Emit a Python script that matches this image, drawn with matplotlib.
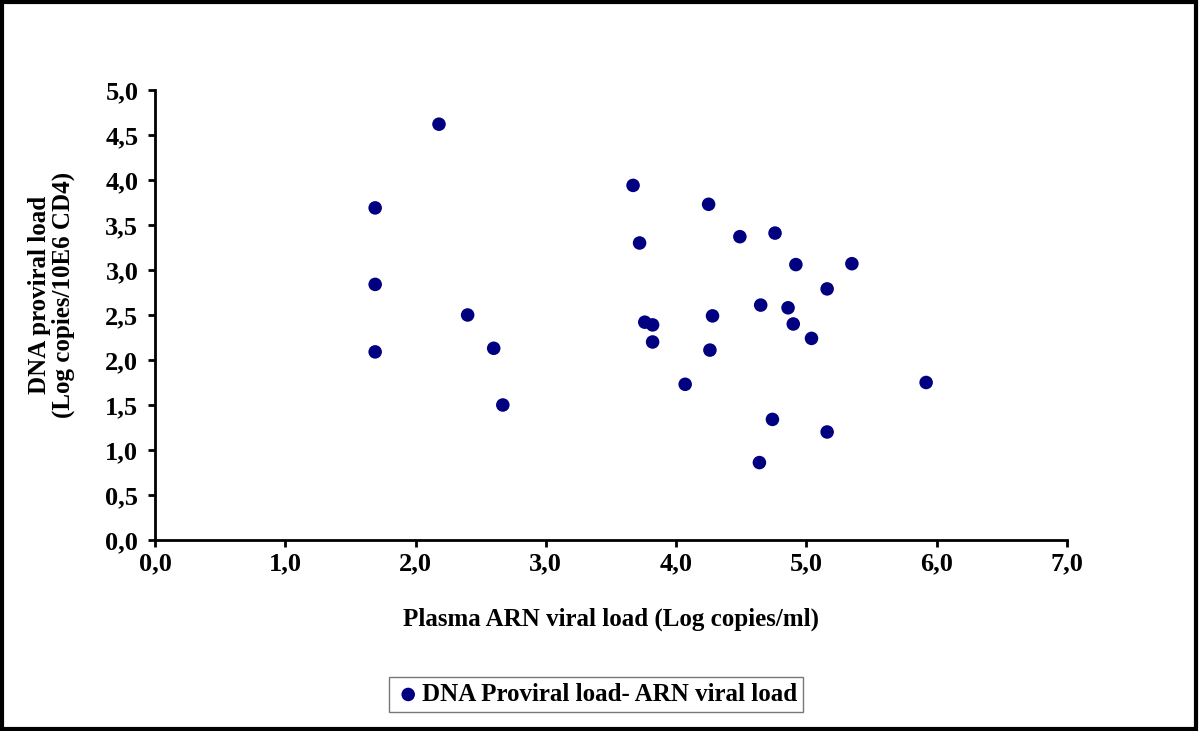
import matplotlib
matplotlib.use("Agg")
import matplotlib.pyplot as plt
from matplotlib.patches import Rectangle
from matplotlib.ticker import MultipleLocator, FuncFormatter

# plasma ARN viral load (log copies/ml) vs DNA proviral load (log copies/10E6 CD4)
arn_load = [1.69, 1.69, 1.69, 2.18, 2.40, 2.60, 2.67,
            3.67, 3.72, 3.76, 3.82, 3.82, 4.07, 4.25, 4.26, 4.28,
            4.49, 4.64, 4.65, 4.74, 4.76, 4.86, 4.90, 4.92, 5.04,
            5.16, 5.16, 5.35, 5.92]
dna_load = [3.69, 2.84, 2.09, 4.62, 2.50, 2.13, 1.50,
            3.94, 3.30, 2.42, 2.39, 2.20, 1.73, 3.73, 2.11, 2.49,
            3.37, 0.86, 2.61, 1.34, 3.41, 2.58, 2.40, 3.06, 2.24,
            2.79, 1.20, 3.07, 1.75]

plt.rcParams["font.family"] = ["Liberation Serif", "DejaVu Serif"]
plt.rcParams["font.weight"] = "bold"

fig = plt.figure(figsize=(12, 7.31), dpi=100)
ax = fig.add_axes([0.1292, 0.2613, 0.7598, 0.6156])

ax.scatter(arn_load, dna_load, s=95, color="#000080", edgecolors="none",
           label="DNA Proviral load- ARN viral load", zorder=3)

ax.set_xlim(0, 7)
ax.set_ylim(0, 5)
ax.xaxis.set_major_locator(MultipleLocator(1))
ax.yaxis.set_major_locator(MultipleLocator(0.5))
comma = FuncFormatter(lambda v, p: f"{v:.1f}".replace(".", ","))
ax.xaxis.set_major_formatter(comma)
ax.yaxis.set_major_formatter(comma)
ax.tick_params(labelsize=19, width=2, length=5, direction="out")
ax.tick_params(axis="y", pad=7)
ax.tick_params(axis="x", pad=4)
for s in ("top", "right"):
    ax.spines[s].set_visible(False)
for s in ("left", "bottom"):
    ax.spines[s].set_linewidth(2)

ax.set_xlabel("Plasma ARN viral load (Log copies/ml)", fontsize=18, fontweight="bold", labelpad=23)
ax.set_ylabel("DNA proviral load\n(Log copies/10E6 CD4)", fontsize=18, fontweight="bold",
              labelpad=22, linespacing=1.0)
ax.yaxis.label.set_y(0.544)

leg = fig.legend(loc="center", fontsize=18, frameon=True, fancybox=False,
                 handletextpad=0.05, borderpad=0.25, handlelength=1.0)
leg.set_bbox_to_anchor((0.497, 0.0499), transform=fig.transFigure)
leg.get_frame().set_edgecolor("#555555")
leg.get_frame().set_linewidth(1)

# black border around the whole picture
fig.patches.append(Rectangle((0.002, 0.003), 0.995, 0.994, transform=fig.transFigure,
                             fill=False, edgecolor="black", linewidth=3))

fig.savefig("out.png", dpi=100)
